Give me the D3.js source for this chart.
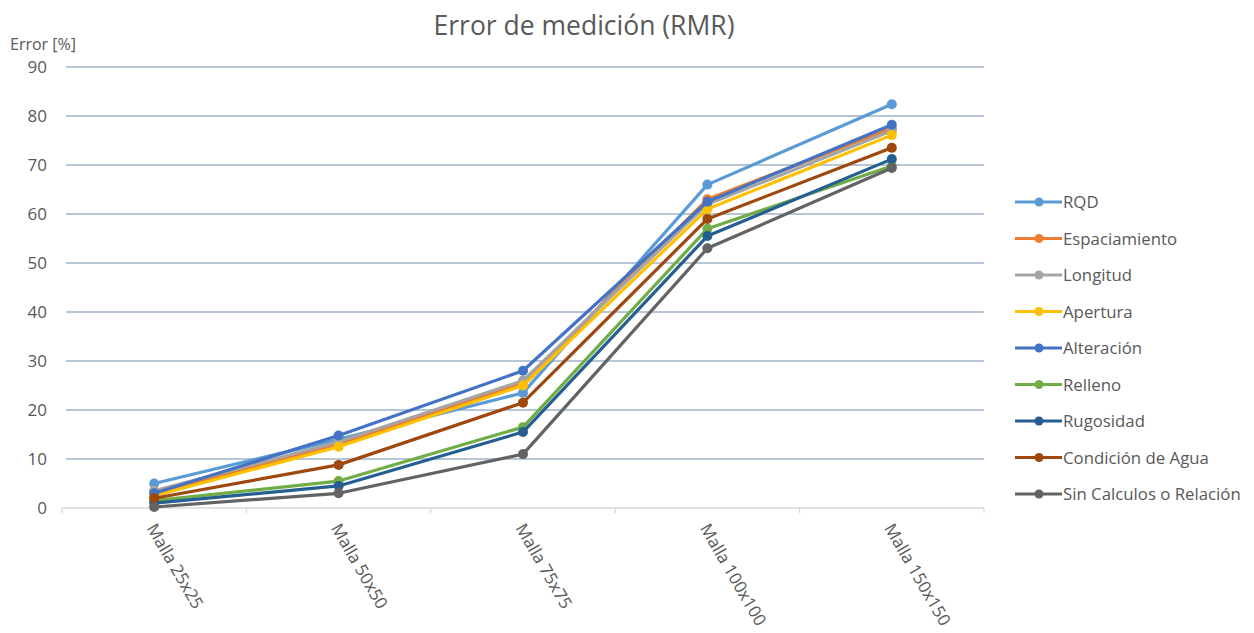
<!DOCTYPE html>
<html><head><meta charset="utf-8">
<script src="https://cdn.jsdelivr.net/npm/d3@7"></script>
<style>body{margin:0;background:#fff;} text{font-family:"Open Sans",Lato,sans-serif;}</style>
</head><body>
<svg id="c" width="1254" height="633"></svg>
<script>
const categories = ["Malla 25x25","Malla 50x50","Malla 75x75","Malla 100x100","Malla 150x150"];
const seriesNames = ["RQD","Espaciamiento","Longitud","Apertura","Alteración","Relleno","Rugosidad","Condición de Agua","Sin Calculos o Relación"];
const seriesColors = ["#5B9BD5","#ED7D31","#A5A5A5","#FFC000","#4472C4","#70AD47","#255E91","#9E480E","#636363"];
const rqd = [5.0, 14.0, 23.5, 66.0, 82.4];
const espaciamiento = [3.0, 13.0, 25.5, 63.0, 77.5];
const longitud = [3.5, 13.5, 26.0, 62.0, 77.0];
const apertura = [2.5, 12.5, 25.0, 61.0, 76.1];
const alteracion = [3.0, 14.8, 28.0, 62.5, 78.2];
const relleno = [1.5, 5.5, 16.5, 57.0, 69.8];
const rugosidad = [1.0, 4.5, 15.5, 55.5, 71.2];
const condicionAgua = [2.0, 8.8, 21.5, 59.0, 73.5];
const sinCalculos = [0.2, 3.0, 11.0, 53.0, 69.4];
const yTicks = [0,10,20,30,40,50,60,70,80,90];
const seriesValues = [rqd, espaciamiento, longitud, apertura, alteracion, relleno, rugosidad, condicionAgua, sinCalculos];

const svg = d3.select("#c");
const pLeft = 62, pRight = 984, pTop = 67, pBottom = 508;
const x = d3.scaleBand().domain(categories).range([pLeft, pRight]);
const y = d3.scaleLinear().domain([0, 90]).range([pBottom, pTop]);
const cx = c => x(c) + x.bandwidth()/2;

svg.append("text").attr("x", 584).attr("y", 35).attr("text-anchor","middle")
  .attr("font-size", 26.5).attr("fill","#595959").text("Error de medición (RMR)");
svg.append("text").attr("x", 10).attr("y", 50).attr("font-size", 16).attr("fill","#595959").text("Error [%]");

svg.append("g").selectAll("line").data(yTicks.filter(d=>d>0)).join("line")
  .attr("x1", pLeft+4).attr("x2", pRight).attr("y1", d=>y(d)).attr("y2", d=>y(d))
  .attr("stroke","#9FB3C8").attr("stroke-width",1.3);
svg.append("g").selectAll("text").data(yTicks).join("text")
  .attr("x", 47).attr("y", d=>y(d)+6).attr("text-anchor","end")
  .attr("font-size", 17).attr("fill","#595959").text(d=>d);

svg.append("line").attr("x1",pLeft).attr("x2",pRight).attr("y1",pBottom).attr("y2",pBottom)
  .attr("stroke","#D9D9D9").attr("stroke-width",1.3);
const bounds = categories.map(c=>x(c)).concat([pRight]);
svg.append("g").selectAll("line").data(bounds).join("line")
  .attr("x1",d=>d).attr("x2",d=>d).attr("y1",pBottom).attr("y2",pBottom+5)
  .attr("stroke","#D9D9D9").attr("stroke-width",1.3);
svg.append("g").selectAll("text").data(categories).join("text")
  .attr("transform", d=>`translate(${cx(d)-8},${pBottom+20}) rotate(60)`)
  .attr("font-size", 17).attr("fill","#595959").text(d=>d);

const line = d3.line().x((d,i)=>cx(categories[i])).y(d=>y(d));
const g = svg.append("g");
seriesValues.forEach((vals, si) => {
  const sg = g.append("g");
  sg.append("path").datum(vals).attr("d", line).attr("fill","none")
    .attr("stroke", seriesColors[si]).attr("stroke-width", 3.2).attr("stroke-linejoin","round");
  sg.selectAll("circle").data(vals).join("circle")
    .attr("cx",(d,i)=>cx(categories[i])).attr("cy",d=>y(d)).attr("r",5)
    .attr("fill", seriesColors[si]);
});

const lg = svg.append("g");
seriesNames.forEach((n, i) => {
  const yy = 202 + i*36.5;
  lg.append("line").attr("x1",1015).attr("x2",1062).attr("y1",yy).attr("y2",yy)
    .attr("stroke",seriesColors[i]).attr("stroke-width",3.2);
  lg.append("circle").attr("cx",1039).attr("cy",yy).attr("r",4.5).attr("fill",seriesColors[i]);
  lg.append("text").attr("x",1063).attr("y",yy+6).attr("font-size",16.8).attr("fill","#595959").text(n);
});
</script>
</body></html>
